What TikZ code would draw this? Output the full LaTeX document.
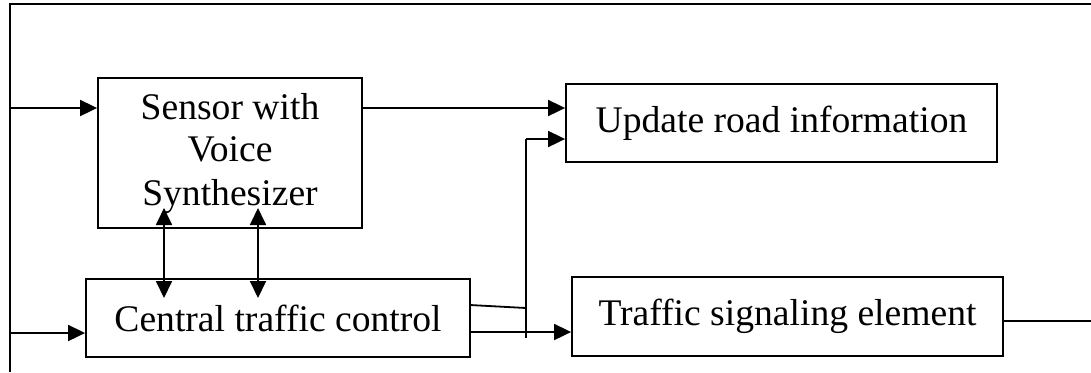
\documentclass[tikz,border=0pt]{standalone}
\usepackage{fontspec}
\setmainfont{Liberation Serif}
\usetikzlibrary{arrows.meta}
\begin{document}
\begin{tikzpicture}[x=0.5pt,y=-0.5pt,
  box/.style={draw,line width=0.9pt,inner sep=0pt,font=\fontsize{18.8pt}{21.5pt}\selectfont,align=center},
  wire/.style={line width=0.9pt},
  arr/.style={wire,-{Triangle[length=8.5pt,width=8pt]}},
  darr/.style={wire,{Triangle[length=8.5pt,width=8pt]}-{Triangle[length=8.5pt,width=8pt]}}]
\useasboundingbox (0,0) rectangle (1091,372);
% frame
\coordinate (fb) at (10,372);
\coordinate (fc) at (10,4);
\coordinate (fr) at (1091,4);
\draw[wire] (fb) -- (fc) -- (fr);
% boxes
\node[box,minimum width=132pt,minimum height=75pt] (sensor) at (230,153) {Sensor with\\Voice\\Synthesizer};
\node[box,minimum width=192pt,minimum height=39pt] (central) at (278,318) {Central traffic control};
\node[box,minimum width=215.5pt,minimum height=39pt] (update) at (781.5,123) {Update road information};
\node[box,minimum width=215.5pt,minimum height=39.5pt] (traffic) at (787.5,316.5) {Traffic signaling element};
% inputs from frame
\coordinate (f1) at (10,108);
\coordinate (f2) at (10,333);
\draw[arr] (f1) -- (f1 -| sensor.west);
\draw[arr] (f2) -- (f2 -| central.west);
% sensor to update
\draw[arr] (f1 -| sensor.east) -- (f1 -| update.west);
% sensor <-> central
\coordinate (s1) at (164,208);
\coordinate (c1) at (164,298);
\coordinate (s2) at (258,208);
\coordinate (c2) at (258,298);
\draw[darr] (s1) -- (c1);
\draw[darr] (s2) -- (c2);
% central outputs
\coordinate (o1) at (470,305);
\coordinate (j1) at (526,308);
\coordinate (vb) at (526,338);
\coordinate (vt) at (526,139);
\coordinate (o2) at (470,332);
\draw[wire] (o1) -- (j1);
\draw[wire] (vb) -- (vt);
\draw[arr] (vt) -- (vt -| update.west);
\draw[arr] (o2) -- (o2 -| traffic.west);
% traffic output
\coordinate (t1) at (1003,321);
\coordinate (t2) at (1091,321);
\draw[wire] (t1) -- (t2);
\end{tikzpicture}
\end{document}
